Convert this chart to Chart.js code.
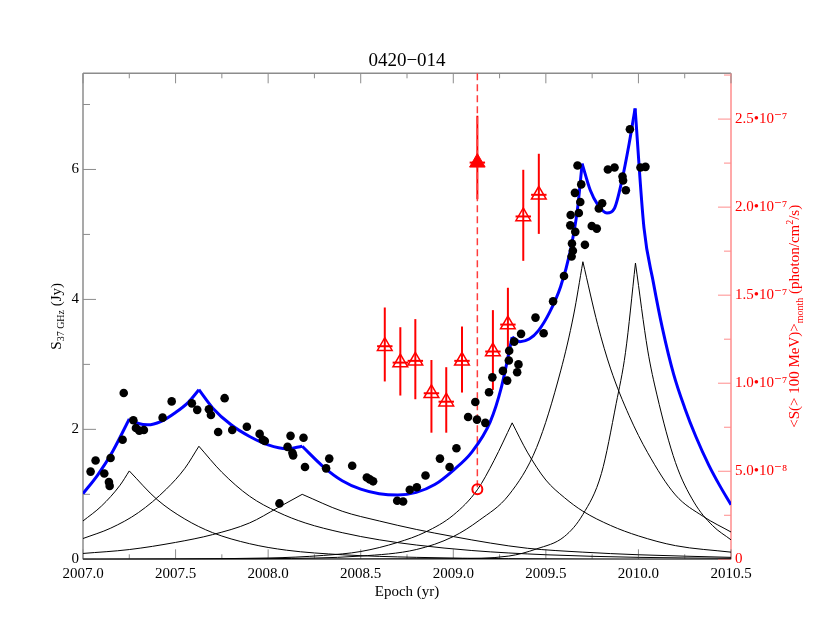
<!DOCTYPE html>
<html lang="en">
<head>
<meta charset="utf-8">
<title>0420-014</title>
<script src="https://cdn.jsdelivr.net/npm/chart.js@4.4.1/dist/chart.umd.min.js"></script>
<style>
  html, body { margin: 0; padding: 0; background: #fff; }
  #wrap { width: 830px; height: 622px; }
</style>
</head>
<body>
<div id="wrap"><canvas id="lightCurve" width="830" height="622"></canvas></div>
<script>
// 37 GHz flux densities (Jy)
const radioEpoch = [2007.041, 2007.068, 2007.115, 2007.140, 2007.144, 2007.149, 2007.214, 2007.220, 2007.272, 2007.286,
    2007.304, 2007.329, 2007.430, 2007.479, 2007.588, 2007.617, 2007.680, 2007.691, 2007.730, 2007.765,
    2007.806, 2007.885, 2007.954, 2007.971, 2007.982, 2008.061, 2008.105, 2008.121, 2008.131, 2008.135,
    2008.191, 2008.199, 2008.313, 2008.330, 2008.454, 2008.533, 2008.549, 2008.567, 2008.697, 2008.729,
    2008.765, 2008.803, 2008.850, 2008.928, 2008.980, 2009.017, 2009.080, 2009.119, 2009.128, 2009.173,
    2009.193, 2009.211, 2009.268, 2009.291, 2009.300, 2009.302, 2009.329, 2009.345, 2009.352, 2009.366,
    2009.444, 2009.488, 2009.539, 2009.598, 2009.639, 2009.646, 2009.641, 2009.659, 2009.632, 2009.634,
    2009.678, 2009.686, 2009.657, 2009.691, 2009.671, 2009.711, 2009.748, 2009.775, 2009.786, 2009.804,
    2009.835, 2009.871, 2009.914, 2009.917, 2009.932, 2009.954, 2010.011, 2010.038];
const radioFlux = [1.35, 1.52, 1.32, 1.19, 1.13, 1.56, 1.84, 2.56, 2.14, 2.02,
    1.98, 1.99, 2.18, 2.43, 2.40, 2.30, 2.31, 2.22, 1.96, 2.48,
    1.99, 2.04, 1.93, 1.84, 1.82, 0.86, 1.73, 1.90, 1.64, 1.60,
    1.87, 1.42, 1.40, 1.55, 1.44, 1.26, 1.23, 1.20, 0.90, 0.89,
    1.07, 1.11, 1.29, 1.55, 1.42, 1.71, 2.19, 2.42, 2.15, 2.10,
    2.57, 2.80, 2.90, 2.75, 3.06, 3.21, 3.35, 2.88, 3.00, 3.47,
    3.72, 3.48, 3.97, 4.36, 4.66, 4.75, 4.86, 5.04, 5.14, 5.30,
    5.33, 5.50, 5.64, 5.77, 6.06, 4.84, 5.13, 5.09, 5.40, 5.48,
    6.00, 6.03, 5.89, 5.83, 5.68, 6.62, 6.03, 6.04];

// modelo total (curva azul) y sus picos
const modelEpoch = [2007.0, 2007.08, 2007.16, 2007.25, 2007.3, 2007.35, 2007.42, 2007.5, 2007.57, 2007.626,
    2007.7, 2007.8, 2007.9, 2008.0, 2008.1, 2008.184, 2008.3, 2008.4, 2008.5, 2008.6,
    2008.7, 2008.8, 2008.9, 2009.0, 2009.1, 2009.2, 2009.26, 2009.318, 2009.36, 2009.41,
    2009.46, 2009.52, 2009.58, 2009.63, 2009.67, 2009.696, 2009.74, 2009.78, 2009.83, 2009.87,
    2009.91, 2009.95, 2009.982, 2010.03, 2010.08, 2010.13, 2010.19, 2010.25, 2010.31, 2010.38,
    2010.44, 2010.5];
const modelFlux = [1.01, 1.30, 1.66, 2.16, 2.09, 2.07, 2.12, 2.26, 2.42, 2.61,
    2.33, 2.07, 1.89, 1.76, 1.70, 1.74, 1.42, 1.21, 1.08, 1.01,
    0.99, 1.03, 1.15, 1.37, 1.65, 2.12, 2.65, 3.42, 3.35, 3.39,
    3.52, 3.80, 4.20, 4.72, 5.37, 6.09, 5.68, 5.46, 5.33, 5.40,
    5.82, 6.40, 6.94, 5.10, 4.27, 3.55, 2.85, 2.33, 1.89, 1.45,
    1.13, 0.84];
const modelPeaks = [2007.25, 2007.626, 2008.184, 2009.318, 2009.696, 2009.982];

// componentes (curvas negras)
const comp1Epoch = [2007.0, 2007.1, 2007.2, 2007.25, 2007.4, 2007.55, 2007.7, 2007.9, 2008.1, 2008.4, 2008.8, 2009.3, 2010.5];
const comp1Flux = [0.59, 0.82, 1.14, 1.36, 0.92, 0.62, 0.41, 0.24, 0.14, 0.07, 0.03, 0.01, 0.0];
const comp2Epoch = [2007.0, 2007.15, 2007.3, 2007.45, 2007.55, 2007.626, 2007.75, 2007.9, 2008.05, 2008.2, 2008.4, 2008.6, 2008.8, 2009.1, 2009.5, 2010.0, 2010.5];
const comp2Flux = [0.32, 0.48, 0.72, 1.08, 1.40, 1.74, 1.34, 0.97, 0.73, 0.56, 0.41, 0.30, 0.22, 0.135, 0.07, 0.03, 0.015];
const comp3Epoch = [2007.0, 2007.25, 2007.5, 2007.7, 2007.9, 2008.05, 2008.184, 2008.4, 2008.6, 2008.8, 2009.0, 2009.2, 2009.4, 2009.7, 2010.0, 2010.5];
const comp3Flux = [0.09, 0.15, 0.26, 0.38, 0.56, 0.79, 1.0, 0.74, 0.59, 0.46, 0.35, 0.25, 0.17, 0.11, 0.07, 0.03];
const comp4Epoch = [2007.0, 2008.0, 2008.3, 2008.5, 2008.7, 2008.85, 2009.0, 2009.13, 2009.22, 2009.318, 2009.4, 2009.5, 2009.6, 2009.7, 2009.85, 2010.0, 2010.2, 2010.5];
const comp4Flux = [0.0, 0.02, 0.06, 0.12, 0.26, 0.42, 0.68, 1.07, 1.52, 2.10, 1.65, 1.22, 0.95, 0.74, 0.52, 0.36, 0.21, 0.11];
const comp5Epoch = [2007.0, 2008.0, 2008.5, 2008.8, 2009.0, 2009.14, 2009.3, 2009.45, 2009.58, 2009.65, 2009.70, 2009.78, 2009.85, 2009.95, 2010.05, 2010.2, 2010.35, 2010.5];
const comp5Flux = [0.0, 0.01, 0.05, 0.15, 0.35, 0.60, 0.99, 1.72, 2.90, 3.76, 4.58, 3.61, 2.93, 2.21, 1.64, 0.99, 0.66, 0.42];
const comp6Epoch = [2007.0, 2009.0, 2009.3, 2009.45, 2009.6, 2009.7, 2009.8, 2009.88, 2009.93, 2009.984, 2010.05, 2010.1, 2010.2, 2010.3, 2010.4, 2010.5];
const comp6Flux = [0.0, 0.01, 0.05, 0.16, 0.35, 0.69, 1.32, 2.40, 3.18, 4.56, 3.22, 2.53, 1.49, 0.88, 0.52, 0.30];

// Fermi-LAT, flujo mensual > 100 MeV (photon/cm2/s)
const latEpoch = [2008.630, 2008.714, 2008.795, 2008.882, 2008.962, 2009.047, 2009.214, 2009.295, 2009.378, 2009.462];
const latFlux = [1.21e-7, 1.117e-7, 1.127e-7, 0.943e-7, 0.895e-7, 1.127e-7, 1.18e-7, 1.333e-7, 1.947e-7, 2.07e-7];
const latLow = [1.01e-7, 0.93e-7, 0.909e-7, 0.719e-7, 0.719e-7, 0.947e-7, 0.962e-7, 1.132e-7, 1.695e-7, 1.848e-7];
const latHigh = [1.43e-7, 1.318e-7, 1.364e-7, 1.132e-7, 1.091e-7, 1.322e-7, 1.415e-7, 1.542e-7, 2.212e-7, 2.303e-7];
const flareEpoch = [2009.13];
const flareFlux = [2.253e-7];
const flareLow = [2.045e-7];
const flareHigh = [2.519e-7];
const limitEpoch = [2009.13];
const limitFlux = [0.398e-7];
const binHalfWidth = 1 / 24;

// etiquetas
const xTickLabels = ['2007.0', '2007.5', '2008.0', '2008.5', '2009.0', '2009.5', '2010.0', '2010.5'];
const yTickLabels = ['0', '2', '4', '6'];
const y2TickLabels = ['0', '5.0\u202210\u207b\u2078', '1.0\u202210\u207b\u2077', '1.5\u202210\u207b\u2077', '2.0\u202210\u207b\u2077', '2.5\u202210\u207b\u2077'];

const SERIF = '"Liberation Serif", "DejaVu Serif", serif';
const GRAY = '#8c8c8c';
const PINK = '#ff8c8c';

function toPoints(ts, vs) {
    return ts.map((t, i) => ({ x: t, y: vs[i] }));
}

// parte la curva en los picos para que queden en punta
function splitAt(ts, vs, cuts) {
    const segs = [];
    let cur = [];
    ts.forEach((t, i) => {
        cur.push({ x: t, y: vs[i] });
        const isCut = cuts.some(c => Math.abs(c - t) < 1e-9);
        if (isCut && i > 0 && i < ts.length - 1) {
            segs.push(cur);
            cur = [{ x: t, y: vs[i] }];
        }
    });
    segs.push(cur);
    return segs;
}

const datasets = [];

// dispersiones rojas
datasets.push({
    label: 'LAT',
    data: toPoints(latEpoch, latFlux),
    yAxisID: 'y2',
    showLine: false,
    pointStyle: 'triangle',
    pointRadius: 8.5,
    borderColor: '#ff0000',
    backgroundColor: 'rgba(255,255,255,0)',
    borderWidth: 1.5,
    order: 1
});
datasets.push({
    label: 'flare',
    data: toPoints(flareEpoch, flareFlux),
    yAxisID: 'y2',
    showLine: false,
    pointStyle: 'triangle',
    pointRadius: 9,
    borderColor: '#ff0000',
    backgroundColor: '#ff0000',
    borderWidth: 1,
    order: 1
});
datasets.push({
    label: 'limit',
    data: toPoints(limitEpoch, limitFlux),
    yAxisID: 'y2',
    showLine: false,
    pointStyle: 'circle',
    pointRadius: 5,
    borderColor: '#ff0000',
    backgroundColor: 'rgba(255,255,255,0)',
    borderWidth: 2,
    order: 1
});
// linea punteada desde el borde superior hasta el circulo
datasets.push({
    label: 'marker',
    data: [{ x: flareEpoch[0], y: 2.76e-7 }, { x: limitEpoch[0], y: limitFlux[0] }],
    yAxisID: 'y2',
    showLine: true,
    pointRadius: 0,
    borderColor: '#ff3c3c',
    borderWidth: 1.5,
    borderDash: [7, 4],
    order: 5
});

// puntos 37 GHz
datasets.push({
    label: '37 GHz',
    data: toPoints(radioEpoch, radioFlux),
    yAxisID: 'y',
    showLine: false,
    pointStyle: 'circle',
    pointRadius: 4.3,
    backgroundColor: '#000',
    borderColor: '#000',
    borderWidth: 0,
    order: 2
});

// modelo total
splitAt(modelEpoch, modelFlux, modelPeaks).forEach(seg => {
    datasets.push({
        data: seg,
        yAxisID: 'y',
        showLine: true,
        pointRadius: 0,
        borderColor: '#0000ff',
        borderWidth: 3,
        cubicInterpolationMode: 'monotone',
        order: 3
    });
});

// componentes
[[comp1Epoch, comp1Flux], [comp2Epoch, comp2Flux], [comp3Epoch, comp3Flux],
 [comp4Epoch, comp4Flux], [comp5Epoch, comp5Flux], [comp6Epoch, comp6Flux]].forEach(([ts, vs]) => {
    const peak = ts[vs.indexOf(Math.max(...vs))];
    splitAt(ts, vs, [peak]).forEach(seg => {
        datasets.push({
            data: seg,
            yAxisID: 'y',
            showLine: true,
            pointRadius: 0,
            borderColor: '#000',
            borderWidth: 1,
            cubicInterpolationMode: 'monotone',
            order: 4
        });
    });
});

function drawRotated(ctx, parts, x, y, color) {
    ctx.save();
    ctx.translate(x, y);
    ctx.rotate(-Math.PI / 2);
    ctx.fillStyle = color;
    ctx.textAlign = 'left';
    ctx.textBaseline = 'alphabetic';
    let total = 0;
    parts.forEach(p => {
        ctx.font = p[1] + 'px ' + SERIF;
        p.w = ctx.measureText(p[0]).width;
        total += p.w;
    });
    let cx = -total / 2;
    parts.forEach(p => {
        ctx.font = p[1] + 'px ' + SERIF;
        ctx.fillText(p[0], cx, p[2]);
        cx += p.w;
    });
    ctx.restore();
}

function line(ctx, x1, y1, x2, y2) {
    ctx.beginPath();
    ctx.moveTo(x1, y1);
    ctx.lineTo(x2, y2);
    ctx.stroke();
}

const framePlugin = {
    id: 'frame',
    beforeDatasetsDraw(chart) {
        const { ctx, chartArea: a, scales } = chart;
        ctx.save();
        // marco
        ctx.lineWidth = 1.5;
        ctx.strokeStyle = GRAY;
        line(ctx, a.left, a.top, a.left, a.bottom);
        line(ctx, a.left, a.top, a.right, a.top);
        line(ctx, a.left, a.bottom, a.right, a.bottom);
        ctx.strokeStyle = PINK;
        line(ctx, a.right, a.top, a.right, a.bottom);

        // marcas hacia adentro
        ctx.lineWidth = 1;
        ctx.strokeStyle = GRAY;
        scales.x.ticks.forEach(tk => {
            const px = scales.x.getPixelForValue(tk.value);
            const major = Math.abs(tk.value * 2 - Math.round(tk.value * 2)) < 1e-6;
            const len = major ? 10 : 5;
            line(ctx, px, a.bottom, px, a.bottom - len);
            line(ctx, px, a.top, px, a.top + len);
        });
        scales.y.ticks.forEach(tk => {
            const py = scales.y.getPixelForValue(tk.value);
            const len = Math.round(tk.value) % 2 === 0 ? 13 : 7;
            line(ctx, a.left, py, a.left + len, py);
        });
        ctx.strokeStyle = PINK;
        scales.y2.ticks.forEach(tk => {
            const py = scales.y2.getPixelForValue(tk.value);
            const k = Math.round(tk.value / 2.5e-8);
            const len = k % 2 === 0 ? 13 : 7;
            line(ctx, a.right, py, a.right - len, py);
        });

        // barras de error
        ctx.strokeStyle = '#ff0000';
        ctx.lineWidth = 2;
        const drawBars = (ts, vs, lo, hi) => {
            ts.forEach((t, i) => {
                const px = scales.x.getPixelForValue(t);
                line(ctx, px, scales.y2.getPixelForValue(lo[i]), px, scales.y2.getPixelForValue(hi[i]));
                const py = scales.y2.getPixelForValue(vs[i]);
                line(ctx, scales.x.getPixelForValue(t - binHalfWidth), py, scales.x.getPixelForValue(t + binHalfWidth), py);
            });
        };
        drawBars(latEpoch, latFlux, latLow, latHigh);
        drawBars(flareEpoch, flareFlux, flareLow, flareHigh);
        ctx.restore();
    },
    afterDraw(chart) {
        const { ctx, chartArea: a } = chart;
        const cx = (a.left + a.right) / 2;
        ctx.save();
        ctx.fillStyle = '#000';
        ctx.textAlign = 'center';
        ctx.textBaseline = 'alphabetic';
        ctx.font = '19px ' + SERIF;
        ctx.fillText('0420\u2212014', cx, 66);
        ctx.font = '15px ' + SERIF;
        ctx.fillText('Epoch (yr)', cx, 596);
        ctx.restore();
        const cy = (a.top + a.bottom) / 2;
        drawRotated(ctx, [['S', 15, 0], ['37 GHz', 10, 3], [' (Jy)', 15, 0]], 61, cy, '#000');
        drawRotated(ctx, [['<S(> 100 MeV)>', 15, 0], ['month', 10, 4], [' (photon/cm', 15, 0], ['2', 10, -6], ['/s)', 15, 0]], 799, cy, '#ff0000');
    }
};

new Chart(document.getElementById('lightCurve').getContext('2d'), {
    type: 'scatter',
    data: { datasets },
    options: {
        responsive: false,
        devicePixelRatio: 1,
        animation: false,
        events: [],
        layout: { padding: { top: 73.3, left: 0, right: 0, bottom: 0 } },
        plugins: {
            legend: { display: false },
            tooltip: { enabled: false },
            title: { display: false }
        },
        scales: {
            x: {
                type: 'linear',
                position: 'bottom',
                min: 2007.0,
                max: 2010.5,
                grid: { display: false, drawTicks: false, tickLength: 0 },
                border: { display: false },
                afterFit(scale) { scale.height = 62.7; },
                ticks: {
                    stepSize: 0.25,
                    autoSkip: false,
                    maxRotation: 0,
                    padding: 6,
                    color: '#000',
                    font: { family: SERIF, size: 15 },
                    callback(value) {
                        const k = Math.round((value - 2007) * 2);
                        return Math.abs((value - 2007) * 2 - k) < 1e-6 ? xTickLabels[k] : '';
                    }
                }
            },
            y: {
                type: 'linear',
                position: 'left',
                min: 0,
                max: 7.48,
                grid: { display: false, drawTicks: false, tickLength: 0 },
                border: { display: false },
                afterFit(scale) { scale.width = 83; },
                ticks: {
                    stepSize: 1,
                    includeBounds: false,
                    padding: 4,
                    color: '#000',
                    font: { family: SERIF, size: 15 },
                    callback(value) {
                        const k = Math.round(value);
                        return k % 2 === 0 ? yTickLabels[k / 2] : '';
                    }
                }
            },
            y2: {
                type: 'linear',
                position: 'right',
                min: 0,
                max: 2.76e-7,
                grid: { display: false, drawTicks: false, tickLength: 0 },
                border: { display: false },
                afterFit(scale) { scale.width = 99; },
                ticks: {
                    stepSize: 2.5e-8,
                    includeBounds: false,
                    padding: 4,
                    color: '#ff0000',
                    font: { family: SERIF, size: 15 },
                    callback(value) {
                        const k = Math.round(value / 2.5e-8);
                        return k % 2 === 0 ? y2TickLabels[k / 2] : '';
                    }
                }
            }
        }
    },
    plugins: [framePlugin]
});
</script>
</body>
</html>
